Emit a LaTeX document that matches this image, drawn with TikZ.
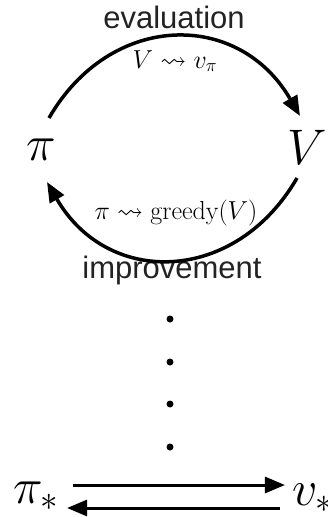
\RequirePackage{fix-cm}
\documentclass[tikz,border=0pt]{standalone}
\usepackage{amssymb}
\usepackage{fontspec}
\newfontfamily\labelfont{Liberation Sans}
\usetikzlibrary{arrows.meta}
\definecolor{labgray}{RGB}{35,35,35}

\begin{document}
\begin{tikzpicture}[x=1pt,y=1pt,>={Triangle[length=20pt,width=16pt]},
    bigsym/.style={inner sep=0pt,anchor=base,font=\fontsize{50}{60}\selectfont},
    rule/.style={inner sep=0pt,anchor=base,font=\fontsize{26}{30}\selectfont},
    word/.style={inner sep=0pt,anchor=base,text=labgray,font=\labelfont\fontsize{31}{36}\selectfont},
    arc/.style={line width=3.5pt,->,looseness=1.25},
    link/.style={line width=3pt,->}]
            \useasboundingbox (0,0) rectangle (328,-517);
            % policy and value
            \node[bigsym] (pi) at (41,-160) {$\pi$};
            \node[bigsym] (V) at (307,-164) {$V$};
            \node[word] (eval) at (174,-28) {evaluation};
            \node[rule] (evalrule) at (175,-68) {$V \leadsto v_\pi$};
            \node[rule] (imprule) at (176,-219) {$\pi \leadsto \mathrm{greedy}(V)$};
            \node[word] (impr) at (172,-278) {improvement};
            \draw[arc] ([shift={(8,42)}]pi.base) to[out=60,in=120] ([shift={(-7,48)}]V.base);
            \draw[arc] ([shift={(-10,-14)}]V.base) to[out=-120,in=-60] ([shift={(6,-22)}]pi.base);
            \foreach \y in {319,362,404,447} \fill (170,-\y) circle (3.5);
            % optimal pair
            \node[bigsym] (pistar) at (36,-503) {$\pi_*$};
            \node[bigsym] (vstar) at (313,-505) {$v_*$};
            \draw[link] ([shift={(14,18)}]pistar.base east) -- ([shift={(-7,20)}]vstar.base west);
            \draw[link] ([shift={(-12,-3)}]vstar.base west) -- ([shift={(8,-5)}]pistar.base east);
        \end{tikzpicture}
\end{document}
